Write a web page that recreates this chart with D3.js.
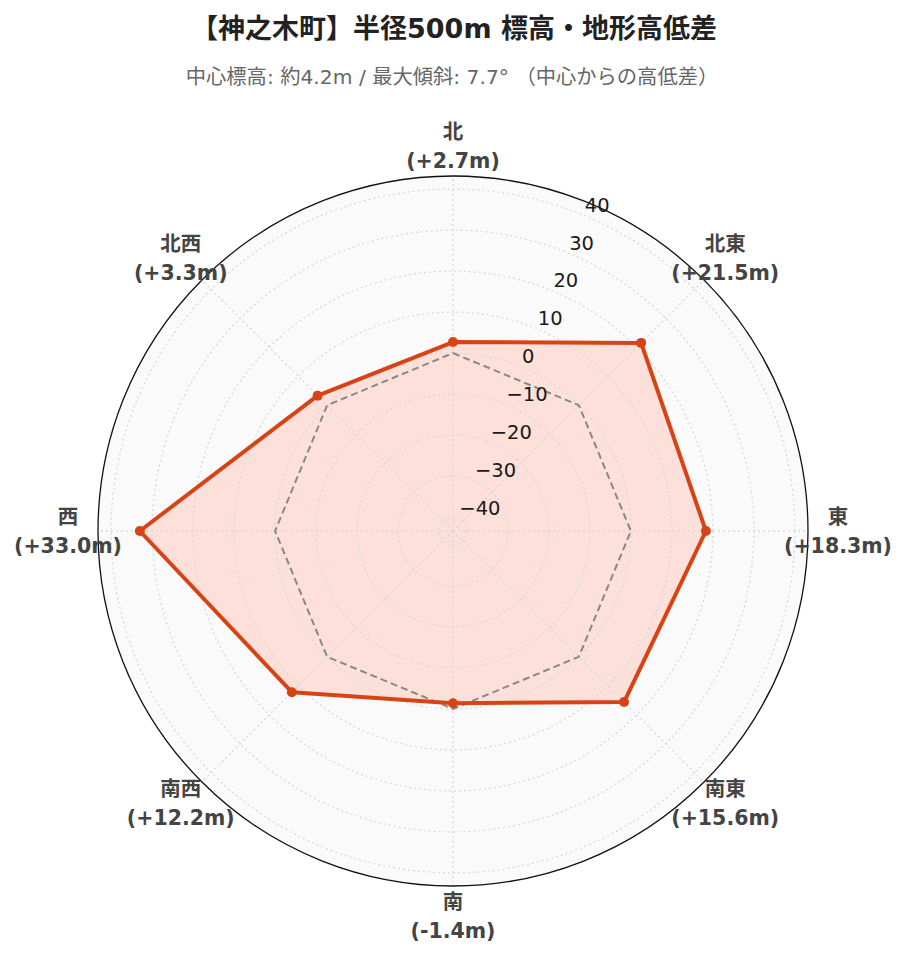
<!DOCTYPE html>
<html>
<head>
<meta charset="utf-8">
<script src="https://cdn.jsdelivr.net/npm/d3@7"></script>
<style>
  html, body { margin: 0; padding: 0; background: #ffffff; }
  svg { display: block; }
</style>
</head>
<body>
<svg id="chart" width="907" height="962"></svg>
<script>
// ---- data ----
const titleText = "【神之木町】半径500m 標高・地形高低差";
const subtitleText = "中心標高: 約4.2m / 最大傾斜: 7.7° （中心からの高低差）";
const directions = ["北", "北東", "東", "南東", "南", "南西", "西", "北西"];
const diffs = [2.7, 21.5, 18.3, 15.6, -1.4, 12.2, 33.0, 3.3];
const baseline = [0, 0, 0, 0, 0, 0, 0, 0];
const radialTicks = [-40, -30, -20, -10, 0, 10, 20, 30, 40];
const radialRange = [-43.4, 43.2];

// ---- layout ----
const W = 907, H = 962;
const cx = 453, cy = 531, R = 355;
const labelR = 385;
const tickAngleDeg = 22.5;

const svg = d3.select("#chart");
const mixed = "'DejaVu Sans', 'Noto Sans CJK JP', sans-serif";
const dejavu = "'DejaVu Sans', sans-serif";

const r = d3.scaleLinear().domain(radialRange).range([0, R]);
const angle = d3.scaleLinear().domain([0, directions.length]).range([0, 2 * Math.PI]);

const g = svg.append("g").attr("transform", `translate(${cx},${cy})`);

// background disc
g.append("circle").attr("r", R).attr("fill", "#fafafa");

const lineGen = d3.lineRadial()
  .angle((d, i) => angle(i))
  .radius(d => r(d))
  .curve(d3.curveLinearClosed);

g.append("path")
  .datum(diffs)
  .attr("d", lineGen)
  .attr("fill", "#fce0d9")
  .attr("stroke", "none");

// grid (above traces)
const gridColor = "#d3dadd";
g.selectAll("circle.grid")
  .data(radialTicks)
  .join("circle")
  .attr("class", "grid")
  .attr("r", d => r(d))
  .attr("fill", "none")
  .attr("stroke", gridColor)
  .attr("stroke-width", 1.3)
  .attr("stroke-dasharray", "2,3");

g.selectAll("line.spoke")
  .data(directions)
  .join("line")
  .attr("class", "spoke")
  .attr("x1", 0).attr("y1", 0)
  .attr("x2", (d, i) => R * Math.sin(angle(i)))
  .attr("y2", (d, i) => -R * Math.cos(angle(i)))
  .attr("stroke", gridColor)
  .attr("stroke-width", 1.3)
  .attr("stroke-dasharray", "2,3");

// baseline (0 m) dashed polygon
g.append("path")
  .datum(baseline)
  .attr("d", lineGen)
  .attr("fill", "none")
  .attr("stroke", "#888888")
  .attr("stroke-width", 2)
  .attr("stroke-dasharray", "7,4");

// data line
g.append("path")
  .datum(diffs)
  .attr("d", lineGen)
  .attr("fill", "none")
  .attr("stroke", "#d84315")
  .attr("stroke-width", 4)
  .attr("stroke-linejoin", "round");

g.selectAll("circle.pt")
  .data(diffs)
  .join("circle")
  .attr("class", "pt")
  .attr("cx", (d, i) => r(d) * Math.sin(angle(i)))
  .attr("cy", (d, i) => -r(d) * Math.cos(angle(i)))
  .attr("r", 5)
  .attr("fill", "#d84315");

// outer circle
g.append("circle").attr("r", R).attr("fill", "none").attr("stroke", "#111").attr("stroke-width", 1.3);

// radial tick labels
const ta = tickAngleDeg * Math.PI / 180;
g.selectAll("text.rtick")
  .data(radialTicks)
  .join("text")
  .attr("class", "rtick")
  .attr("x", d => r(d) * Math.sin(ta) + 1)
  .attr("y", d => -r(d) * Math.cos(ta) - 10)
  .attr("dominant-baseline", "central")
  .attr("text-anchor", "start")
  .attr("font-family", dejavu)
  .attr("font-size", 19.5)
  .attr("fill", "#1a1a1a")
  .text(d => d3.format("")(d).replace("-", "\u2212"));

// direction labels
const fmt = v => "(" + (v >= 0 ? "+" : "") + v.toFixed(1) + "m)";
const lab = g.selectAll("g.dir")
  .data(directions)
  .join("g")
  .attr("class", "dir")
  .attr("transform", (d, i) => `translate(${labelR * Math.sin(angle(i))},${-labelR * Math.cos(angle(i))})`);
lab.append("text")
  .attr("y", -14.5)
  .attr("text-anchor", "middle")
  .attr("dominant-baseline", "central")
  .attr("font-family", mixed)
  .attr("font-weight", "bold")
  .attr("font-size", 20.5)
  .attr("fill", "#444")
  .text(d => d);
lab.append("text")
  .attr("y", 14.5)
  .attr("text-anchor", "middle")
  .attr("dominant-baseline", "central")
  .attr("font-family", mixed)
  .attr("font-weight", "bold")
  .attr("font-size", 20.5)
  .attr("fill", "#444")
  .text((d, i) => fmt(diffs[i]));

// titles
svg.append("text")
  .attr("x", 454).attr("y", 28)
  .attr("text-anchor", "middle")
  .attr("dominant-baseline", "central")
  .attr("font-family", mixed)
  .attr("font-weight", "bold")
  .attr("font-size", 27)
  .attr("fill", "#222")
  .text(titleText);

svg.append("text")
  .attr("x", 452).attr("y", 77)
  .attr("text-anchor", "middle")
  .attr("dominant-baseline", "central")
  .attr("font-family", mixed)
  .attr("font-size", 20.3)
  .attr("fill", "#666")
  .text(subtitleText);
</script>
</body>
</html>
